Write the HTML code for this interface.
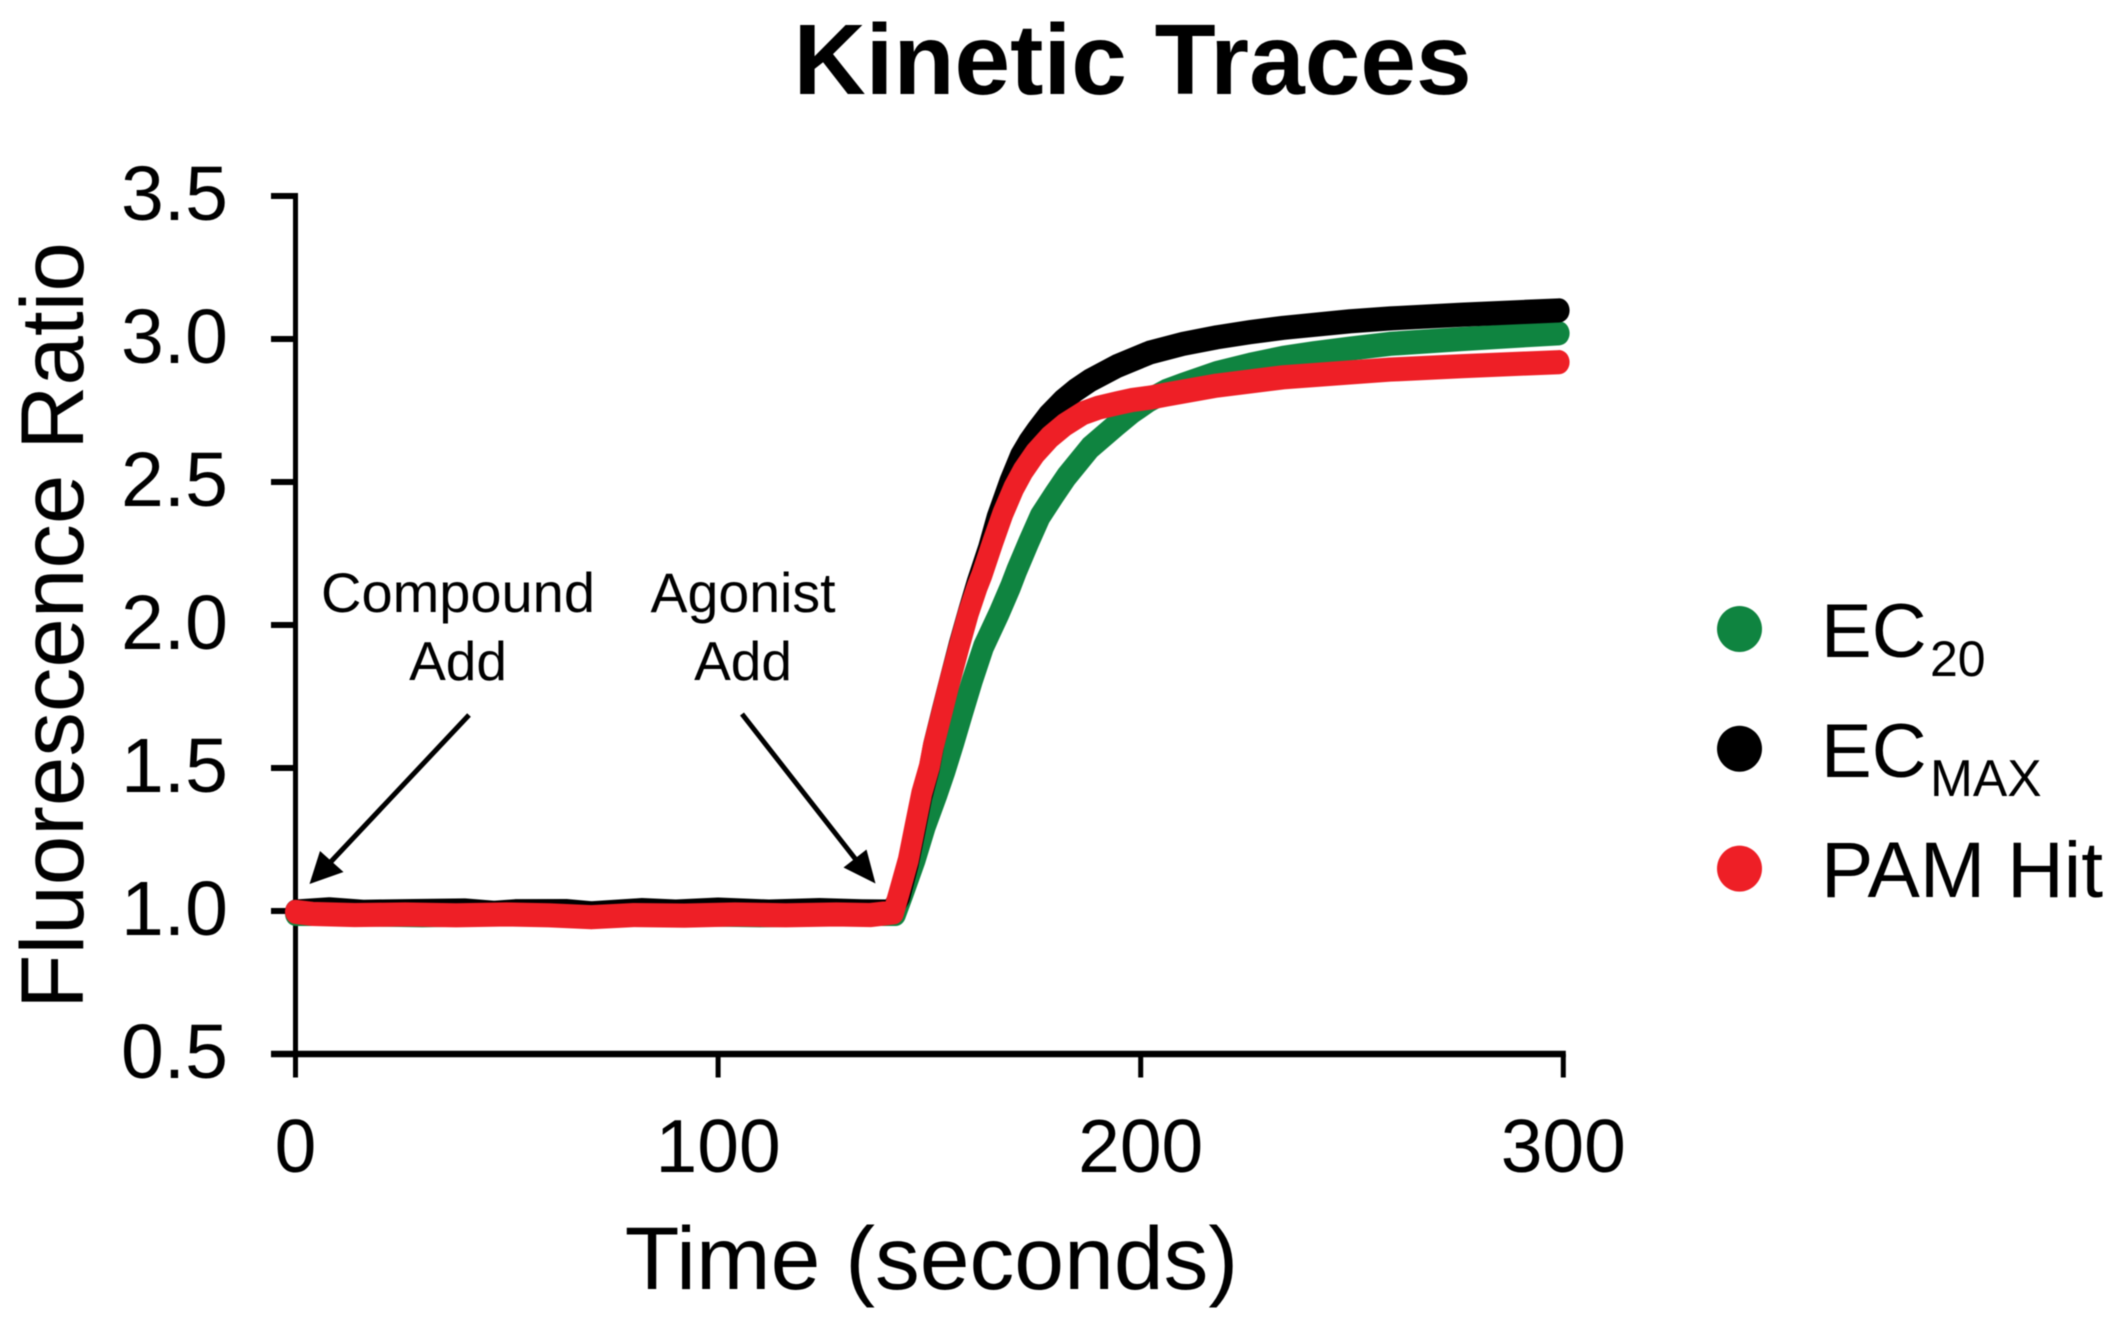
<!DOCTYPE html>
<html lang="en">
<head>
<meta charset="utf-8">
<title>Kinetic Traces</title>
<style>
html,body{margin:0;padding:0;background:#fff;}
svg{display:block;filter:blur(0.6px);}
text{font-family:"Liberation Sans",Arial,sans-serif;fill:#000;}
</style>
</head>
<body>
<svg id="chart" xmlns="http://www.w3.org/2000/svg" width="2116" height="1334" viewBox="0 0 2116 1334">
  <rect x="0" y="0" width="2116" height="1334" fill="#fff"/>
  <text x="1132.5" y="94" font-size="100" font-weight="700" text-anchor="middle">Kinetic Traces</text>
  <text transform="translate(83 625.5) rotate(-90)" font-size="89" text-anchor="middle">Fluorescence Ratio</text>
  <text x="931.5" y="1289" font-size="89.5" text-anchor="middle">Time (seconds)</text>

  <g id="axes"></g>
  <g id="series"></g>

  <text x="458" y="612" font-size="56" text-anchor="middle">Compound</text>
  <text x="458" y="680" font-size="55" text-anchor="middle">Add</text>
  <text x="743" y="612" font-size="55.5" text-anchor="middle">Agonist</text>
  <text x="743" y="680" font-size="55" text-anchor="middle">Add</text>

  <line x1="469" y1="715" x2="325" y2="868" stroke="#000" stroke-width="5"/>
  <polygon points="309.5,884 320,851 343.5,872" fill="#000"/>
  <line x1="742" y1="714" x2="864" y2="870" stroke="#000" stroke-width="5"/>
  <polygon points="875.5,883.5 866.5,849.5 843.5,867.5" fill="#000"/>

  <ellipse cx="1739.5" cy="629" rx="22.5" ry="23" fill="#0f8440"/>
  <text x="1821" y="657" font-size="76">EC</text>
  <text x="1930" y="676" font-size="50">20</text>
  <ellipse cx="1739.5" cy="748.7" rx="22.5" ry="23" fill="#000"/>
  <text x="1821" y="777" font-size="76">EC</text>
  <text x="1930" y="796" font-size="51.5">MAX</text>
  <ellipse cx="1739.5" cy="868.6" rx="22.5" ry="23" fill="#ee1f26"/>
  <text x="1821" y="897" font-size="78.5">PAM Hit</text>
</svg>
<script>
const yTickValues = [0.5, 1.0, 1.5, 2.0, 2.5, 3.0, 3.5];
const yTickLabels = ["0.5", "1.0", "1.5", "2.0", "2.5", "3.0", "3.5"];
const xTickValues = [0, 100, 200, 300];
const xTickLabels = ["0", "100", "200", "300"];

const ec20Times = [0, 10, 30, 50, 70, 90, 110, 130, 142, 143.8, 146.6, 149, 151.9, 153.7, 155.8, 157.8, 160.2, 162.8, 166.5, 169.2, 170.7, 173.5, 176.2, 179.5, 182.5, 188, 194.3, 198, 202, 206, 210, 218, 225.9, 233.7, 241, 249.5, 259, 276, 299];
const ec20Values = [0.99, 0.99, 0.985, 0.99, 0.985, 0.99, 0.985, 0.99, 0.99, 1.062, 1.178, 1.295, 1.412, 1.49, 1.59, 1.691, 1.808, 1.924, 2.041, 2.134, 2.192, 2.29, 2.38, 2.455, 2.52, 2.62, 2.70, 2.745, 2.786, 2.818, 2.84, 2.881, 2.91, 2.934, 2.95, 2.966, 2.983, 3.00, 3.02];

const ecMaxTimes = [0, 8, 16, 28, 40, 47, 52, 64, 70, 82, 90, 100, 112, 124, 134, 141, 143, 145, 146.6, 148.2, 150, 151, 153, 155, 157, 159.2, 161.3, 164, 166, 169, 171.5, 173.5, 175.4, 178, 181.6, 184.5, 188, 194.4, 202.2, 210, 218, 225.9, 233.7, 249.5, 259, 276, 299];
const ecMaxValues = [0.998, 1.006, 0.997, 1.0, 1.002, 0.994, 0.999, 1.0, 0.992, 1.003, 0.998, 1.005, 0.998, 1.003, 0.999, 0.998, 1.05, 1.165, 1.28, 1.40, 1.50, 1.58, 1.70, 1.815, 1.93, 2.045, 2.15, 2.27, 2.375, 2.50, 2.59, 2.64, 2.68, 2.73, 2.785, 2.82, 2.855, 2.905, 2.953, 2.983, 3.006, 3.024, 3.039, 3.062, 3.072, 3.085, 3.10];

const pamHitTimes = [0, 4, 14, 26, 38, 50, 60, 70, 80, 92, 104, 116, 128, 136, 141.5, 142.8, 145, 146.6, 148.2, 150, 150.9, 152.9, 154.9, 157, 159.2, 161.3, 162.4, 165, 167.4, 170, 172.2, 175, 178.5, 182, 186.4, 190, 194.4, 198, 202.2, 206.2, 218, 233.7, 249.5, 259, 276, 299];
const pamHitValues = [0.997, 0.99, 0.986, 0.988, 0.985, 0.988, 0.985, 0.978, 0.986, 0.984, 0.988, 0.985, 0.988, 0.986, 0.995, 1.062, 1.178, 1.295, 1.412, 1.505, 1.574, 1.691, 1.808, 1.924, 2.041, 2.134, 2.175, 2.29, 2.39, 2.48, 2.54, 2.60, 2.657, 2.70, 2.741, 2.76, 2.775, 2.787, 2.795, 2.806, 2.837, 2.866, 2.883, 2.893, 2.905, 2.919];

const SVG_NS = "http://www.w3.org/2000/svg";
const PEN_STRETCH = 1.15;
const xScale = function (t) { return 295.5 + t * 4.226; };
const yScale = function (v) { return 1054 - (v - 0.5) * 286; };
const axesGroup = document.getElementById("axes");
const seriesGroup = document.getElementById("series");

function drawLine(x1, y1, x2, y2, width) {
  const el = document.createElementNS(SVG_NS, "line");
  el.setAttribute("x1", x1);
  el.setAttribute("y1", y1);
  el.setAttribute("x2", x2);
  el.setAttribute("y2", y2);
  el.setAttribute("stroke", "#000");
  el.setAttribute("stroke-width", width);
  axesGroup.appendChild(el);
  return el;
}

function drawLabel(x, y, anchor, size, content) {
  const el = document.createElementNS(SVG_NS, "text");
  el.setAttribute("x", x);
  el.setAttribute("y", y);
  el.setAttribute("font-size", size);
  el.setAttribute("text-anchor", anchor);
  el.textContent = content;
  axesGroup.appendChild(el);
  return el;
}

const yAxisLine = drawLine(xScale(0), yScale(3.5) - 3, xScale(0), 1077.5, 5);



const xAxisLine = drawLine(271, yScale(0.5), xScale(300) + 2.5, yScale(0.5), 6.5);



yTickValues.forEach(function (v, i) {
  const tick = drawLine(271, yScale(v), xScale(0), yScale(v), 6);
  
  
  const label = drawLabel(228, yScale(v) + 24, "end", 77, yTickLabels[i]);
  
  
});

xTickValues.forEach(function (t, i) {
  const tick = drawLine(xScale(t), yScale(0.5), xScale(t), 1077.5, 5);
  
  
  const label = drawLabel(xScale(t), 1172, "middle", 75, xTickLabels[i]);
  
  
});

function drawTrace(times, values, colour) {
  const el = document.createElementNS(SVG_NS, "polyline");
  const pts = times.map(function (t, i) {
    return xScale(t).toFixed(1) + "," + (yScale(values[i]) / PEN_STRETCH).toFixed(1);
  }).join(" ");
  el.setAttribute("points", pts);
  el.setAttribute("transform", "scale(1 " + PEN_STRETCH + ")");
  el.setAttribute("fill", "none");
  el.setAttribute("stroke", colour);
  el.setAttribute("stroke-width", "21");
  el.setAttribute("stroke-linecap", "round");
  el.setAttribute("stroke-linejoin", "round");
  seriesGroup.appendChild(el);
  return el;
}

const ec20Trace = drawTrace(ec20Times, ec20Values, "#0f8440");



const ecMaxTrace = drawTrace(ecMaxTimes, ecMaxValues, "#000");



const pamHitTrace = drawTrace(pamHitTimes, pamHitValues, "#ee1f26");


</script>
</body>
</html>
